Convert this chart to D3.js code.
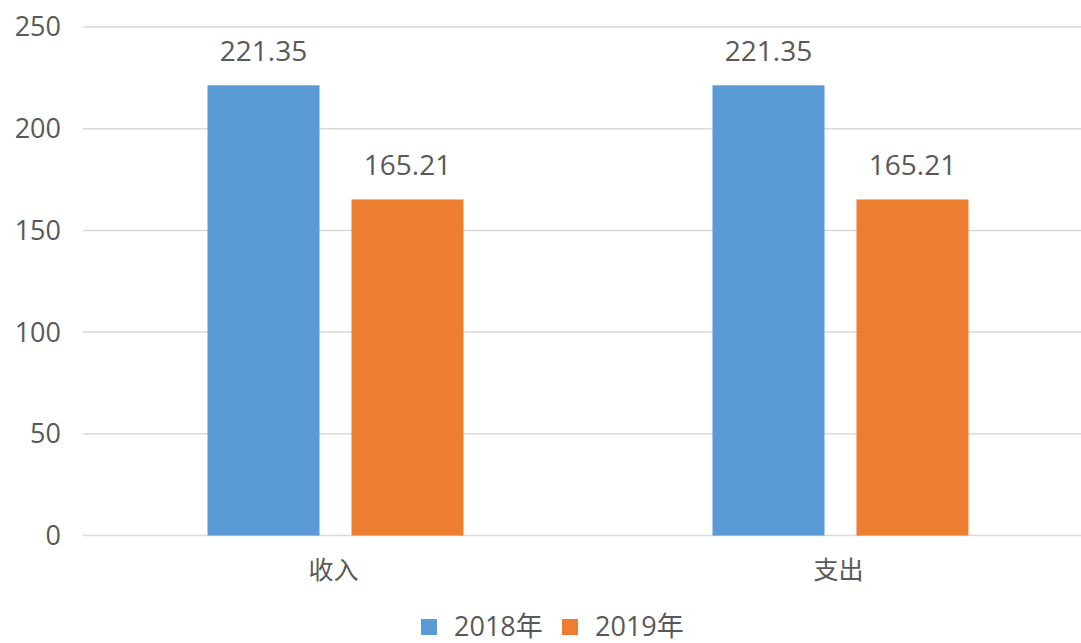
<!DOCTYPE html>
<html>
<head>
<meta charset="utf-8">
<script src="https://cdn.jsdelivr.net/npm/d3@7"></script>
<style>
  body { margin: 0; background: #fff; }
  text { font-family: "Open Sans", "Noto Sans CJK SC", sans-serif; fill: #595959; }
</style>
</head>
<body>
<div id="chart"></div>
<script>
// data
var categories = ["收入", "支出"];
var seriesNames = ["2018年", "2019年"];
var values2018 = [221.35, 221.35];
var values2019 = [165.21, 165.21];
var yTicks = [0, 50, 100, 150, 200, 250];
var colors = ["#5B9BD5", "#ED7D31"];

var width = 1081, height = 643;

var svg = d3.select("#chart").append("svg")
    .attr("width", width)
    .attr("height", height);

// x bands run a bit past the right edge, like the original crop
var x = d3.scaleBand()
    .domain(categories)
    .range([83, 1093])
    .paddingInner(0)
    .paddingOuter(0);

var y = d3.scaleLinear()
    .domain([0, 250])
    .range([535.5, 27]);

// gridlines
svg.selectAll(".grid")
    .data(yTicks)
  .enter().append("line")
    .attr("class", "grid")
    .attr("x1", 83)
    .attr("x2", width)
    .attr("y1", function(d) { return y(d); })
    .attr("y2", function(d) { return y(d); })
    .style("stroke", "#D9D9D9")
    .style("stroke-width", 1.5);

// y tick labels
svg.selectAll(".ytick")
    .data(yTicks)
  .enter().append("text")
    .attr("class", "ytick")
    .attr("x", 61)
    .attr("y", function(d) { return y(d); })
    .attr("dy", "0.35em")
    .attr("text-anchor", "end")
    .style("font-size", "27px")
    .text(function(d) { return d; });

// two bars per category
var barW = 112, gap = 32;
var series = [values2018, values2019];

series.forEach(function(vals, s) {
  svg.selectAll(".bar" + s)
      .data(vals)
    .enter().append("rect")
      .attr("class", "bar" + s)
      .attr("x", function(d, i) {
        var c = x(categories[i]) + x.bandwidth() / 2;
        return c - (barW * 2 + gap) / 2 + s * (barW + gap);
      })
      .attr("y", function(d) { return y(d); })
      .attr("width", barW)
      .attr("height", function(d) { return y(0) - y(d); })
      .style("fill", colors[s]);

  svg.selectAll(".lab" + s)
      .data(vals)
    .enter().append("text")
      .attr("class", "lab" + s)
      .attr("x", function(d, i) {
        var c = x(categories[i]) + x.bandwidth() / 2;
        return c - (barW * 2 + gap) / 2 + s * (barW + gap) + barW / 2;
      })
      .attr("y", function(d) { return y(d) - 24; })
      .attr("text-anchor", "middle")
      .style("font-size", "28px")
      .text(function(d) { return d.toFixed(2); });
});

// category labels
svg.selectAll(".xtick")
    .data(categories)
  .enter().append("text")
    .attr("class", "xtick")
    .attr("x", function(d) { return x(d) + x.bandwidth() / 2 - 2; })
    .attr("y", 579)
    .attr("text-anchor", "middle")
    .style("font-size", "25px")
    .text(function(d) { return d; });

// legend
var legendX = [421, 562];
var legend = svg.selectAll(".legend")
    .data(seriesNames)
  .enter().append("g")
    .attr("class", "legend")
    .attr("transform", function(d, i) { return "translate(" + legendX[i] + ",0)"; });

legend.append("rect")
    .attr("x", 0)
    .attr("y", 619)
    .attr("width", 16)
    .attr("height", 16)
    .style("fill", function(d, i) { return colors[i]; });

legend.append("text")
    .attr("x", 33)
    .attr("y", 636)
    .style("font-size", "27px")
    .text(function(d) { return d; });
</script>
</body>
</html>
